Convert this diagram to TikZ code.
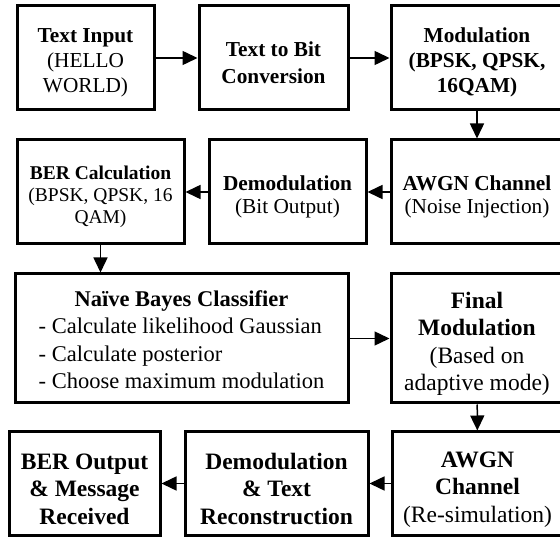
\documentclass[tikz,border=0pt]{standalone}
\usepackage{fontspec}
\setmainfont{Liberation Serif}
\usetikzlibrary{arrows.meta}
\newcommand{\toprule}{\rule{0pt}{1.15em}}
\begin{document}
\begin{tikzpicture}[x=1pt,y=-1pt,
  box/.style={draw, line width=3pt, rectangle, align=center, inner sep=0pt},
  conn/.style={line width=1.5pt, -{Triangle[length=15pt,width=14pt]}},
  fa/.style={font=\fontsize{21.3}{25}\selectfont},
  fab/.style={font=\fontsize{21.3}{27}\selectfont},
  fb/.style={font=\fontsize{19.5}{22}\selectfont},
  fbb/.style={font=\fontsize{21.3}{23.5}\selectfont},
  fc/.style={font=\fontsize{22.5}{27.5}\selectfont},
  fd/.style={font=\fontsize{23.5}{27.5}\selectfont}]
\useasboundingbox (0,0) rectangle (560,537);
\clip (0,0) rectangle (560,537);
% Row 1
\node[box, fa, minimum width=137pt, minimum height=104pt] (tin) at (85.5,58)
  {\toprule\textbf{Text Input}\\(HELLO\\WORLD)};
\node[box, fab, minimum width=149pt, minimum height=104pt] (tb) at (273.5,58)
  {\toprule\textbf{Text to Bit}\\\textbf{Conversion}};
\node[box, fa, minimum width=172pt, minimum height=104pt] (mod) at (477,58)
  {\toprule\textbf{Modulation}\\\textbf{(BPSK, QPSK,}\\\textbf{16QAM)}};
% Row 2
\node[box, fb, minimum width=167pt, minimum height=104pt] (ber) at (100.5,192)
  {\toprule\textbf{BER Calculation}\\(BPSK, QPSK, 16\\QAM)};
\node[box, fbb, minimum width=157pt, minimum height=104pt] (dem) at (287.5,192)
  {\toprule\textbf{Demodulation}\\(Bit Output)};
\node[box, fbb, minimum width=172pt, minimum height=104pt] (awgn) at (477,192)
  {\toprule\textbf{AWGN Channel}\\(Noise Injection)};
% Row 3
\node[box, fc, minimum width=333pt, minimum height=129pt] (nb) at (181.5,338.5)
  {\begin{tabular}{@{}l@{}}\multicolumn{1}{@{}c@{}}{\toprule\textbf{Naïve Bayes Classifier}}\\
  - Calculate likelihood Gaussian\\- Calculate posterior\\- Choose maximum modulation\end{tabular}};
\node[box, fd, minimum width=172pt, minimum height=129pt] (fin) at (477,338.5)
  {\toprule\textbf{Final}\\\textbf{Modulation}\\(Based on\\adaptive mode)};
% Row 4
\node[box, fd, minimum width=151pt, minimum height=103pt] (out) at (84.5,483.5)
  {\toprule\textbf{BER Output}\\\textbf{\& Message}\\\textbf{Received}};
\node[box, fd, minimum width=183pt, minimum height=103pt] (dtr) at (276.5,483.5)
  {\toprule\textbf{Demodulation}\\\textbf{\& Text}\\\textbf{Reconstruction}};
\node[box, fd, minimum width=171pt, minimum height=103pt] (awgn2) at (477.5,483.5)
  {\toprule\textbf{AWGN}\\\textbf{Channel}\\(Re-simulation)};
% Connectors
\draw[conn] (tin) -- (tb);
\draw[conn] (tb) -- (mod);
\draw[conn] (mod) -- (awgn);
\draw[conn] (awgn) -- (dem);
\draw[conn] (dem) -- (ber);
\draw[conn] (ber) -- (nb.north -| ber.south);
\draw[conn] (nb.east |- fin.west) -- (fin);
\draw[conn] (fin) -- (awgn2);
\draw[conn] (awgn2) -- (dtr);
\draw[conn] (dtr) -- (out);
\end{tikzpicture}
\end{document}
